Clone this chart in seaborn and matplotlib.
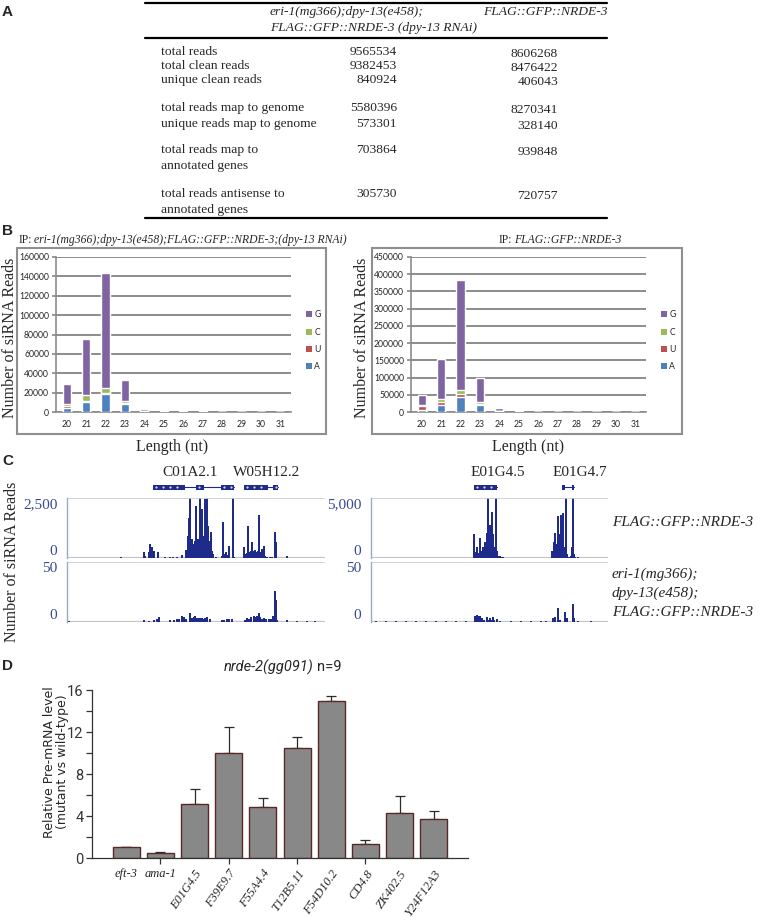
import numpy as np
import pandas as pd
import seaborn as sns
import matplotlib.pyplot as plt
from matplotlib.patches import Rectangle, Patch
from matplotlib import font_manager

sns.set_theme(style="white")
plt.rcParams["font.family"] = ["Liberation Serif", "DejaVu Sans"]

SERIF = "Liberation Serif"
SANS = "Liberation Sans"
EXCEL = "Lato"
installed = {f.name for f in font_manager.fontManager.ttflist}
NARROW = "Liberation Sans Narrow" if "Liberation Sans Narrow" in installed else "Roboto"

# ---------------- panel A: read summary table ----------------
row_labels = ["total reads", "total clean reads", "unique clean reads",
              "total reads map to genome", "unique reads map to genome",
              "total reads map to\nannotated genes",
              "total reads antisense to\nannotated genes"]
eri_counts = [9565534, 9382453, 840924, 5580396, 573301, 703864, 305730]
nrde_counts = [8606268, 8476422, 406043, 8270341, 328140, 939848, 720757]

# ---------------- panel B: siRNA length / first base ----------------
lengths = list(range(20, 32))
eri_A = [4500, 10000, 18600, 8500, 400, 150, 120, 100, 30, 20, 10, 10]
eri_U = [1500, 1800, 1400, 1200, 200, 100, 60, 50, 10, 10, 5, 5]
eri_C = [1800, 5800, 4500, 2000, 200, 100, 80, 80, 20, 10, 5, 5]
eri_G = [21200, 57600, 119500, 21300, 2700, 500, 400, 350, 60, 30, 20, 20]
nrde_A = [6000, 19000, 45000, 21000, 1500, 400, 100, 50, 30, 20, 10, 10]
nrde_U = [12000, 10000, 6000, 2000, 500, 200, 50, 30, 10, 10, 5, 5]
nrde_C = [3000, 8000, 12000, 6000, 500, 200, 50, 30, 10, 10, 5, 5]
nrde_G = [29000, 116000, 319000, 71000, 8000, 1500, 300, 200, 50, 30, 20, 20]
base_colors = {"A": "#4F81BD", "U": "#C0504D", "C": "#9BBB59", "G": "#8064A2"}

# ---------------- panel C: browser tracks ----------------
c01_nrde_pos = [54, 77, 78, 82, 83, 84, 85, 86, 87, 91, 98, 103, 106, 110, 115, 119,
                120, 121, 122, 123, 124, 125, 126, 127, 128, 129, 130, 131, 132, 133,
                134, 135, 136, 137, 138, 139, 140, 141, 142, 143, 144, 145, 146,
                149, 155, 156, 157, 158, 159, 160, 161, 162, 166, 167,
                177, 178, 179, 180, 181, 182, 183, 184, 185, 186, 187, 188, 189, 190,
                191, 192, 193, 194, 195, 196, 197, 198, 200, 203, 205, 208, 209, 220]
c01_nrde_val = [30, 240, 100, 250, 580, 300, 440, 150, 300, 240, 60, 30, 40, 60, 140, 350,
                300, 900, 1650, 2500, 700, 790, 600, 510, 720, 2150, 650, 790, 700, 2500,
                1420, 2040, 900, 790, 2460, 2350, 2500, 1350, 700, 650, 1070, 300, 170,
                60, 100, 1490, 170, 100, 240, 100, 140, 490, 2500, 60,
                440, 150, 170, 200, 1320, 240, 200, 300, 650, 250, 300, 350, 200, 260,
                300, 1800, 260, 200, 370, 300, 510, 100, 60, 40, 60, 1070, 650, 100]
c01_eri_pos = [2, 77, 82, 87, 90, 92, 103, 107, 110, 112, 115, 117, 119, 123, 125, 127,
               128, 130, 132, 133, 135, 137, 138, 140, 143, 155, 157, 160, 162, 165,
               178, 180, 182, 184, 187, 188, 190, 192, 193, 195, 197, 199, 202, 204,
               206, 208, 209, 210, 220, 230, 240, 248]
c01_eri_val = [0.5, 1.4, 1.1, 1.4, 2.7, 4, 1.4, 1.6, 2.2, 2.7, 4.9, 3.8, 2.2, 7.4, 3.3, 4,
               4.9, 3.3, 3.3, 3.3, 3.5, 2.7, 3.3, 3.8, 2.7, 1.4, 1.9, 2.2, 2.7, 2.2,
               1.6, 3.3, 2.7, 3.8, 4.9, 3.8, 4.6, 7.4, 4, 2.7, 3.5, 2.7, 2.2, 2.7,
               4.9, 26, 18.6, 1.4, 1.6, 0.8, 0.5, 0.8]
e01_nrde_pos = [103, 104, 105, 106, 107, 108, 109, 110, 111, 112, 113, 114, 115, 116,
                117, 118, 119, 120, 121, 122, 123, 124, 125, 126, 127, 128, 129, 130,
                131, 132, 181, 182, 183, 184, 185, 186, 187, 188, 189, 190, 191, 192,
                193, 194, 195, 196, 197, 198, 199, 200, 201, 202, 203, 204, 207]
e01_nrde_val = [2030, 500, 490, 890, 350, 400, 1700, 500, 620, 890, 700, 1300, 800, 2100,
                5000, 2240, 2780, 1000, 3810, 1970, 890, 700, 5000, 620, 200, 100, 135, 60,
                50, 50, 620, 400, 1300, 2100, 1160, 500, 3460, 600, 1970, 3600, 800, 3730,
                890, 300, 5000, 350, 80, 60, 60, 200, 890, 5000, 350, 100, 50]
e01_eri_pos = [5, 15, 25, 35, 45, 55, 65, 75, 85, 95, 104, 105, 106, 107, 108, 109, 110,
               111, 112, 113, 116, 117, 119, 120, 122, 123, 126, 129, 140, 150, 160,
               170, 175, 182, 184, 187, 189, 194, 196, 202, 203, 207, 220]
e01_eri_val = [1, 0.8, 1, 0.8, 1.2, 0.8, 1, 0.8, 1, 1.2, 5.4, 4, 6, 5.4, 3, 4.6, 3,
               3.2, 2, 1.9, 3.8, 2, 3.2, 2, 3.8, 2, 2.4, 1.1, 1, 0.8, 1,
               1.2, 1, 3.2, 4.3, 11.9, 1.9, 8.6, 3.2, 14.9, 3.2, 1.1, 0.5]
left_genes = {"C01A2.1": [(86, 118), (129, 137), (154, 167)],
              "W05H12.2": [(177, 201), (206, 211)]}
left_gene_label_pos = [123, 200]
right_genes = {"E01G4.5": [(103, 126)],
               "E01G4.7": [(191, 194), (201, 203)]}
right_gene_label_pos = [127, 209]
track_blue = "#1f2b8a"
label_blue = "#3a4795"

# ---------------- panel D: pre-mRNA qRT-PCR ----------------
genes_d = ["eft-3", "ama-1", "E01G4.5", "F39E9.7", "F55A4.4", "T12B5.11",
           "F54D10.2", "CD4.8", "ZK402.5", "Y24F12A3"]
pre_mrna = [1.05, 0.5, 5.1, 10.0, 4.9, 10.45, 14.95, 1.37, 4.24, 3.73]
pre_err = [0.0, 0.05, 1.5, 2.45, 0.86, 1.05, 0.45, 0.38, 1.65, 0.73]

W, H = 759, 917
fig = plt.figure(figsize=(W / 100, H / 100), dpi=100)


def px_axes(x0, y0, x1, y1):
    ax = fig.add_axes([x0 / W, 1 - y1 / H, (x1 - x0) / W, (y1 - y0) / H])
    ax.set_facecolor("none")
    return ax


# overlay for free text and table rules (pixel coordinates)
ov = fig.add_axes([0, 0, 1, 1], zorder=10)
ov.set_xlim(0, W)
ov.set_ylim(H, 0)
ov.axis("off")

for letter, y in zip("ABCD", [12, 231, 461, 666]):
    ov.text(2, y, letter, family=SANS, weight="bold", size=11, va="center")

# ---- A: table
for y in [3, 38, 218]:
    ov.plot([145, 607], [y, y], color="black", lw=1.6)
ov.text(270, 12, "eri-1(mg366);dpy-13(e458);", family=SERIF, style="italic", size=9.7, va="center")
ov.text(270, 28, "FLAG::GFP::NRDE-3 (dpy-13 RNAi)", family=SERIF, style="italic", size=9.7, va="center")
ov.text(483, 12, "FLAG::GFP::NRDE-3", family=SERIF, style="italic", size=9.7, va="center")
row_y = [52, 66, 80, 108, 124, 150, 194]
for lab, y, c1, c2 in zip(row_labels, row_y, eri_counts, nrde_counts):
    for i, line in enumerate(lab.split("\n")):
        ov.text(161, y + 16 * i, line, family=SERIF, size=9.7, va="center")
    ov.text(397, y, str(c1), family=SERIF, size=9.7, va="center", ha="right")
    ov.text(558, y + 2, str(c2), family=SERIF, size=9.7, va="center", ha="right")


# ---- B: stacked length distributions
def length_panel(ax, A, U, C, G, ymax, step):
    df = pd.DataFrame({"A": A, "U": U, "C": C, "G": G}, index=lengths)
    top = df.cumsum(axis=1)
    for base in ["G", "C", "U", "A"]:
        sns.barplot(x=[str(v) for v in lengths], y=top[base].values, color=base_colors[base],
                    width=0.42, saturation=1, ax=ax, zorder=3)
    ax.set_xlim(-0.55, 11.55)
    ax.set_ylim(0, ymax)
    ticks = np.arange(0, ymax + 1, step)
    ax.set_yticks(ticks)
    ax.set_yticklabels([str(t) for t in ticks], family=EXCEL, size=6.2)
    ax.set_xticks(range(len(lengths)))
    ax.set_xticklabels([str(v) for v in lengths], family=EXCEL, size=6.2)
    ax.yaxis.grid(True, color="#8c8c8c", lw=1.4)
    ax.set_axisbelow(True)
    sns.despine(ax=ax)
    for s in ["left", "bottom"]:
        ax.spines[s].set_color("#8c8c8c")
        ax.spines[s].set_linewidth(1.2)
    ax.tick_params(axis="y", left=True, length=3, color="#8c8c8c", pad=2)
    ax.tick_params(axis="x", length=0, pad=6)
    ax.set_xlabel("")
    ax.set_ylabel("")
    handles = [Patch(facecolor=base_colors[b], edgecolor="none") for b in ["G", "C", "U", "A"]]
    ax.legend(handles, ["G", "C", "U", "A"], loc="center left", bbox_to_anchor=(1.03, 0.46),
              frameon=False, prop={"family": EXCEL, "size": 6.2}, handlelength=0.7,
              handleheight=0.7, handletextpad=0.3, labelspacing=0.95)


axb1 = px_axes(56, 257, 291, 412)
length_panel(axb1, eri_A, eri_U, eri_C, eri_G, 160000, 20000)
axb2 = px_axes(411, 257, 646, 412)
length_panel(axb2, nrde_A, nrde_U, nrde_C, nrde_G, 450000, 50000)

for x0, x1 in [(17, 326), (372, 682)]:
    ov.add_patch(Rectangle((x0, 248), x1 - x0, 186, fill=False, edgecolor="#8f8f8f", lw=1.5))
ov.text(32, 240, "IP:", family=SERIF, size=8.4, va="center", ha="right")
ov.text(34, 240, "eri-1(mg366);dpy-13(e458);FLAG::GFP::NRDE-3;(dpy-13 RNAi)",
        family=SERIF, style="italic", size=8.4, va="center")
ov.text(512, 240, "IP:", family=SERIF, size=8.4, va="center", ha="right")
ov.text(514, 240, "FLAG::GFP::NRDE-3", family=SERIF, style="italic", size=8.4, va="center")
for x in [10, 362]:
    ov.text(x, 338, "Number of siRNA Reads", family=SERIF, size=11.5, rotation=90,
            va="center", ha="center")
for x in [172, 528]:
    ov.text(x, 447, "Length (nt)", family=SERIF, size=11.5, va="center", ha="center")


# ---- C: browser tracks
def track(ax, pos, val, top, xmax, top_label):
    ax.bar(pos, val, width=1.25, color=track_blue, linewidth=0)
    ax.set_xlim(0, xmax)
    ax.set_ylim(0, top)
    ax.axhline(top, color="#cccccc", lw=1.2)
    ax.axhline(0, color="#c4c4c4", lw=1.6, zorder=0)
    ax.set_xticks([])
    ax.set_yticks([0, top])
    ax.set_yticklabels(["0", top_label], family=SERIF, size=11, color=label_blue)
    labs = ax.get_yticklabels()
    labs[0].set_va("bottom")
    labs[1].set_va("top")
    ax.tick_params(axis="y", left=False, pad=1)
    for s in ["top", "right", "bottom"]:
        ax.spines[s].set_visible(False)
    ax.spines["left"].set_color("#9ea7d2")
    ax.spines["left"].set_linewidth(1)


def gene_models(ax, genes, label_pos, xmax):
    ax.set_xlim(0, xmax)
    ax.set_ylim(0, 1)
    ax.axis("off")
    for (name, exons), lx in zip(genes.items(), label_pos):
        ax.plot([exons[0][0], exons[-1][1]], [0.5, 0.5], color=track_blue, lw=0.8)
        for s, e in exons:
            ax.add_patch(Rectangle((s, 0.25), e - s, 0.5, color=track_blue, lw=0))
            dots = np.arange(s + 3, e - 1, 7)
            ax.plot(dots, np.full(len(dots), 0.5), ls="none", marker=".", ms=1.0, color="white")
        ax.text(lx, 1.9, name, family=SERIF, size=11, ha="center", va="center", clip_on=False)


gene_models(px_axes(67, 482, 325, 492), left_genes, left_gene_label_pos, 258)
gene_models(px_axes(371, 482, 608, 492), right_genes, right_gene_label_pos, 237)
track(px_axes(67, 498, 325, 558), c01_nrde_pos, c01_nrde_val, 2500, 258, "2,500")
track(px_axes(67, 562, 325, 622), c01_eri_pos, c01_eri_val, 50, 258, "50")
track(px_axes(371, 498, 608, 558), e01_nrde_pos, e01_nrde_val, 5000, 237, "5,000")
track(px_axes(371, 562, 608, 622), e01_eri_pos, e01_eri_val, 50, 237, "50")

ov.text(12, 562, "Number of siRNA Reads", family=SERIF, size=11.5, rotation=90,
        va="center", ha="center")
ov.text(612, 523, "FLAG::GFP::NRDE-3", family=SERIF, style="italic", size=11, va="center")
for y, line in zip([574, 593, 612], ["eri-1(mg366);", "dpy-13(e458);", "FLAG::GFP::NRDE-3"]):
    ov.text(612, y, line, family=SERIF, style="italic", size=11, va="center")

# ---- D: pre-mRNA bars
axd = px_axes(92, 690, 468, 858)
axd.errorbar(range(len(genes_d)), pre_mrna, yerr=[np.zeros(len(pre_err)), pre_err],
             fmt="none", ecolor="#2b2b2b", elinewidth=0.9, capsize=3.6, capthick=0.9, zorder=0.5)
sns.barplot(x=genes_d, y=pre_mrna, color="#888888", edgecolor="#5a2828", linewidth=1,
            width=0.79, saturation=1, ax=axd)
axd.set_xlim(-1, len(genes_d))
axd.set_ylim(0, 16)
axd.set_yticks([0, 4, 8, 12, 16])
axd.set_yticks([2, 6, 10, 14], minor=True)
axd.set_yticklabels(["0", "4", "8", "12", "16"], family=NARROW, size=10.5, color="#333333")
axd.set_xticks(range(len(genes_d)))
axd.set_xticklabels(genes_d, family=SERIF, style="italic", size=9)
for i, lab in enumerate(axd.get_xticklabels()):
    if i >= 2:
        lab.set_rotation(55)
        lab.set_ha("right")
        lab.set_rotation_mode("anchor")
axd.xaxis.remove_overlapping_locs = False
axd.set_xticks([1, 3, 5, 7], minor=True)
axd.tick_params(axis="x", which="major", length=0, pad=7)
axd.tick_params(axis="x", which="minor", bottom=True, length=4, width=0.9, color="#333333")
axd.tick_params(axis="y", which="both", left=True, length=4, width=0.9, color="#333333", pad=2)
sns.despine(ax=axd)
for s in ["left", "bottom"]:
    axd.spines[s].set_color("#333333")
    axd.spines[s].set_linewidth(0.9)
axd.set_xlabel("")
axd.set_ylabel("")

ov.text(314, 667, "nrde-2(gg091)", family=NARROW, style="italic", size=10.5, ha="right", va="center")
ov.text(317, 667, "n=9", family=NARROW, size=10.5, ha="left", va="center")
ov.text(56, 762, "Relative Pre-mRNA level\n(mutant vs wild-type)", family="DejaVu Sans",
        size=9, rotation=90, ha="center", va="center", linespacing=0.95)

fig.savefig("out.png", dpi=100)
